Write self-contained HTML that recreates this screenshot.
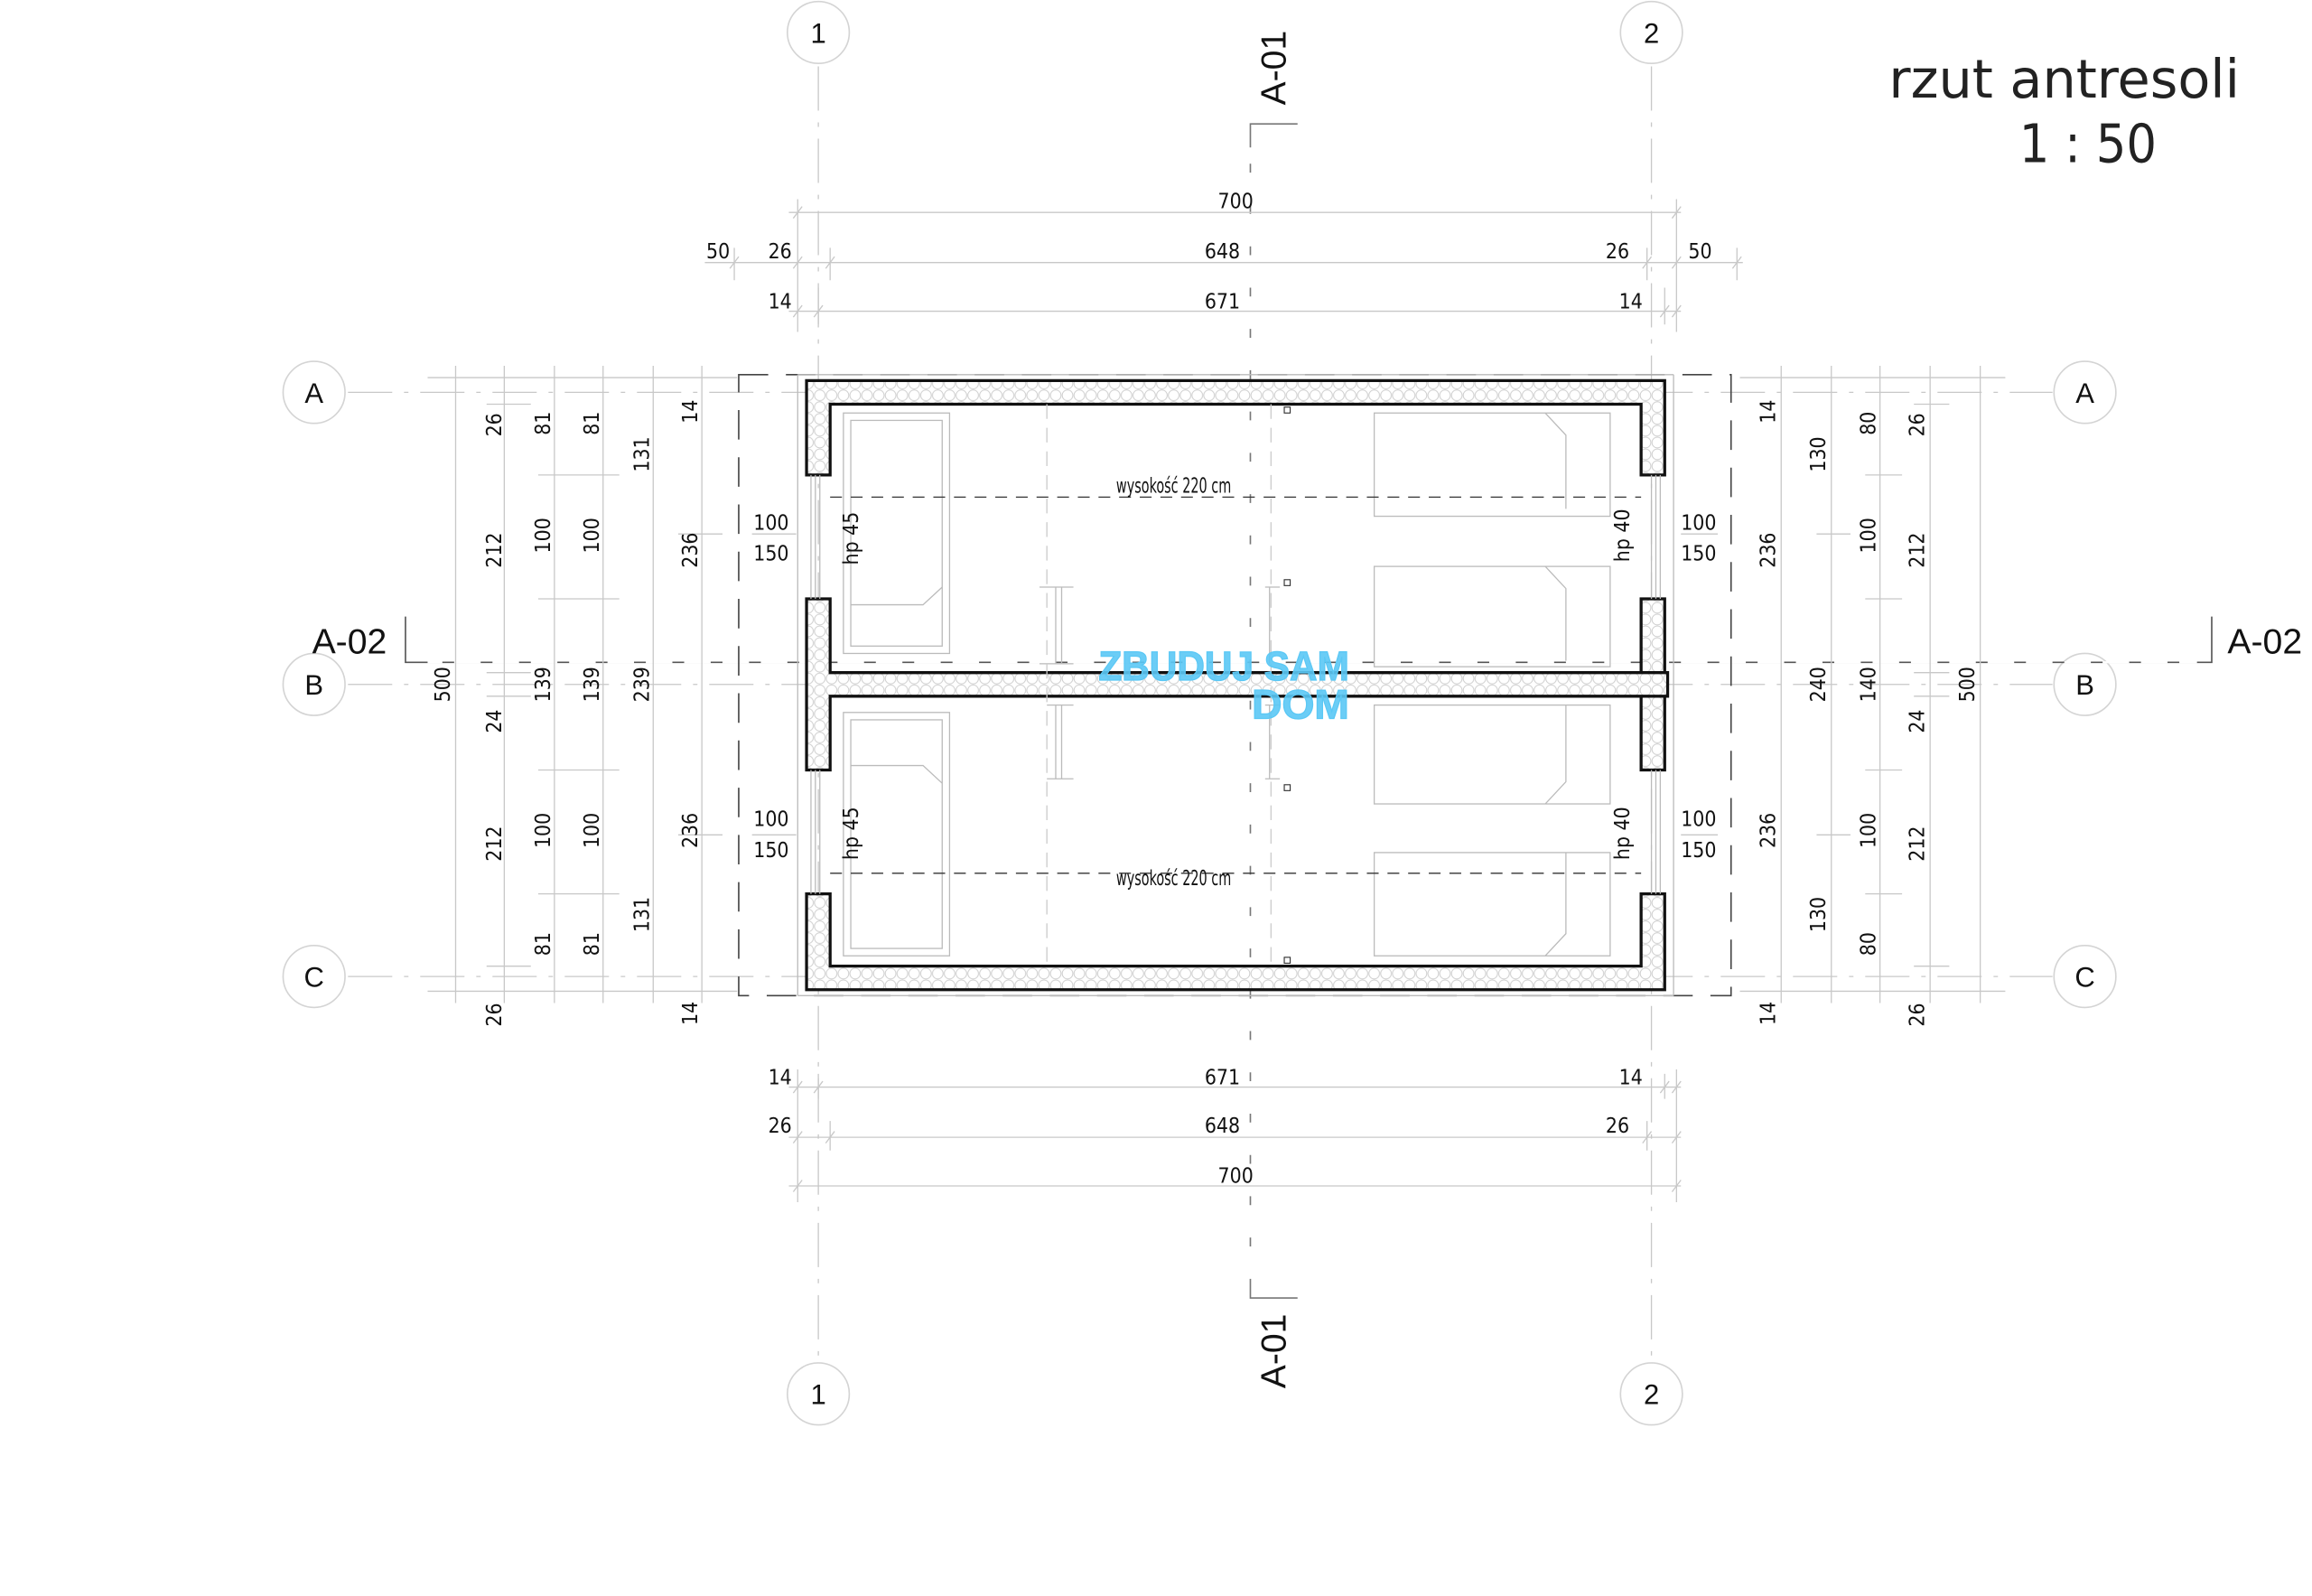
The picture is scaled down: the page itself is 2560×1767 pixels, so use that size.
<!DOCTYPE html>
<html><head><meta charset="utf-8"><style>
html,body{margin:0;padding:0;background:#fff}
svg{display:block}
.d{font-family:"DejaVu Sans Condensed","Liberation Sans",sans-serif;font-size:14px;fill:#111}
.g{stroke:#c8c8c8;stroke-width:0.8;fill:none}
.k{stroke:#111;stroke-width:2;fill:none}
.f{stroke:#bbb;stroke-width:0.8;fill:none}
</style></head><body>
<svg width="2560" height="1767" viewBox="0 0 1568 1082" preserveAspectRatio="none" xmlns="http://www.w3.org/2000/svg">
<defs>
<pattern id="ins" width="8" height="8" patternUnits="userSpaceOnUse">
<rect width="8" height="8" fill="#fff"/><circle cx="4" cy="4" r="3.6" fill="none" stroke="#ccc" stroke-width="0.6"/>
</pattern>
</defs>
<rect width="1568" height="1082" fill="#fff"/>

<g class="g" stroke-dasharray="30 8 3 8">
<line x1="555" y1="45" x2="555" y2="922"/><line x1="1120" y1="45" x2="1120" y2="922"/>
<line x1="236" y1="266" x2="1392" y2="266"/><line x1="236" y1="464" x2="1392" y2="464"/><line x1="236" y1="662" x2="1392" y2="662"/>
</g>
<g fill="#fff" stroke="#d4d4d4" stroke-width="1">
<ellipse cx="555" cy="22" rx="21" ry="21"/><ellipse cx="1120" cy="22" rx="21" ry="21"/>
<ellipse cx="555" cy="945" rx="21" ry="21"/><ellipse cx="1120" cy="945" rx="21" ry="21"/>
<ellipse cx="213" cy="266" rx="21" ry="21"/><ellipse cx="213" cy="464" rx="21" ry="21"/><ellipse cx="213" cy="662" rx="21" ry="21"/>
<ellipse cx="1414" cy="266" rx="21" ry="21"/><ellipse cx="1414" cy="464" rx="21" ry="21"/><ellipse cx="1414" cy="662" rx="21" ry="21"/>
</g>
<g font-family="Liberation Sans,sans-serif" font-size="19" text-anchor="middle" fill="#111">
<text x="555" y="29">1</text><text x="1120" y="29">2</text><text x="555" y="952">1</text><text x="1120" y="952">2</text>
<text x="213" y="273">A</text><text x="213" y="471">B</text><text x="213" y="669">C</text>
<text x="1414" y="273">A</text><text x="1414" y="471">B</text><text x="1414" y="669">C</text>
</g>

<text x="1400" y="66" font-family="DejaVu Sans Condensed,Liberation Sans,sans-serif" font-size="36" text-anchor="middle" fill="#222" textLength="238" lengthAdjust="spacingAndGlyphs">rzut antresoli</text>
<text x="1416" y="110" font-family="DejaVu Sans Condensed,Liberation Sans,sans-serif" font-size="36" text-anchor="middle" fill="#222">1 : 50</text>

<g stroke="#444" stroke-width="1" fill="none">
<path d="M880 84 H848 V880 H880" stroke="#777"/>
</g>
<line x1="848" y1="100" x2="848" y2="870" stroke="#fff" stroke-width="1.4" stroke-dasharray="22 6" stroke-dashoffset="11"/>
<path d="M275 418 V449 H1500 V418" stroke="#555" stroke-width="1" fill="none"/>
<line x1="290" y1="449" x2="1490" y2="449" stroke="#fff" stroke-width="1.4" stroke-dasharray="18 8" stroke-dashoffset="8"/>
<text transform="translate(872,46) rotate(-90)" font-family="Liberation Sans,sans-serif" font-size="24" text-anchor="middle" fill="#111">A-01</text>
<text transform="translate(872,916) rotate(-90)" font-family="Liberation Sans,sans-serif" font-size="24" text-anchor="middle" fill="#111">A-01</text>
<text x="237" y="443" font-family="Liberation Sans,sans-serif" font-size="24" text-anchor="middle" fill="#111">A-02</text>
<text x="1536" y="443" font-family="Liberation Sans,sans-serif" font-size="24" text-anchor="middle" fill="#111">A-02</text>

<rect x="501" y="254" width="673" height="421" fill="none" stroke="#444" stroke-width="1" stroke-dasharray="20 12"/>

<g fill="url(#ins)">
<path d="M547 322 V258 H1129 V322 H1113 V274 H563 V322 Z"/>
<path d="M547 406 H563 V456 H1131 V472 H563 V522 H547 Z"/>
<rect x="1113" y="406" width="16" height="50"/><rect x="1113" y="472" width="16" height="50"/>
<path d="M547 606 H563 V655 H1113 V606 H1129 V671 H547 Z"/>
</g>
<g class="k">
<path d="M547 322 V258 H1129 V322 H1113 V274 H563 V322 Z"/>
<path d="M547 406 H563 V456 H1131 V472 H563 V522 H547 Z"/>
<path d="M1113 456 V406 H1129 V456 M1113 472 V522 H1129 V472"/>
<path d="M547 606 H563 V655 H1113 V606 H1129 V671 H547 Z"/>
</g>
<g class="f">
<path d="M550 322 V406 M553 322 V406 M556 322 V406 M550 522 V606 M553 522 V606 M556 522 V606"/>
<path d="M1120 322 V406 M1123 322 V406 M1126 322 V406 M1120 522 V606 M1123 522 V606 M1126 522 V606"/>
<path d="M541 254 V675 M1135 254 V675 M541 254 H1135 M541 675 H1135"/>
</g>

<g class="f">
<rect x="572" y="280" width="72" height="163"/><rect x="577" y="285" width="62" height="153"/>
<path d="M577 410 H626 L639 398"/>
<rect x="932" y="280" width="160" height="70"/><path d="M1048 280 L1062 295 V345"/>
<rect x="932" y="384" width="160" height="68"/><path d="M1048 384 L1062 399 V448"/>
<rect x="572" y="483" width="72" height="165"/><rect x="577" y="488" width="62" height="155"/>
<path d="M577 519 H626 L639 531"/>
<rect x="932" y="478" width="160" height="67"/><path d="M1048 545 L1062 530 V478"/>
<rect x="932" y="578" width="160" height="70"/><path d="M1048 648 L1062 633 V578"/>
<path d="M705 398 H728 M716 398 V450 M720 398 V450 M705 450 H728 M710 478 H728 M716 478 V528 M720 478 V528 M710 528 H728"/>
<path d="M858 398 H868 M861 398 V450 M858 478 H868 M861 478 V528 M858 528 H868"/>
</g>
<g stroke="#ccc" stroke-width="0.8" stroke-dasharray="10 6">
<line x1="710" y1="274" x2="710" y2="655"/><line x1="862" y1="274" x2="862" y2="655"/>
</g>
<g stroke="#333" stroke-width="0.8" stroke-dasharray="8 6">
<line x1="563" y1="337" x2="1113" y2="337"/><line x1="563" y1="592" x2="1113" y2="592"/>
</g>
<g fill="#fff" stroke="#333" stroke-width="0.7">
<rect x="871" y="276" width="4" height="4"/><rect x="871" y="393" width="4" height="4"/><rect x="871" y="532" width="4" height="4"/><rect x="871" y="649" width="4" height="4"/>
</g>
<g class="d" font-size="9" text-anchor="middle">
<text x="796" y="334" textLength="78" lengthAdjust="spacingAndGlyphs">wysokość 220 cm</text><text x="796" y="600" textLength="78" lengthAdjust="spacingAndGlyphs">wysokość 220 cm</text>
</g>

<g class="g">
<line x1="535" y1="144" x2="1140" y2="144"/><line x1="478" y1="178" x2="1182" y2="178"/><line x1="535" y1="211" x2="1140" y2="211"/>
<line x1="535" y1="737" x2="1140" y2="737"/><line x1="535" y1="771" x2="1140" y2="771"/><line x1="535" y1="804" x2="1140" y2="804"/>
<path d="M541 135 V225 M563 168 V190 M1117 168 V190 M1137 135 V225 M498 168 V190 M1178 168 V190 M555 195 V220 M1129 195 V220"/>
<path d="M541 725 V815 M563 760 V780 M1117 760 V780 M1137 725 V815 M555 728 V745 M1129 728 V745"/>
<path d="M538 148 l6 -8 M1134 148 l6 -8 M538 182 l6 -8 M560 182 l6 -8 M1114 182 l6 -8 M1134 182 l6 -8 M495 182 l6 -8 M1175 182 l6 -8 M538 215 l6 -8 M552 215 l6 -8 M1126 215 l6 -8 M1134 215 l6 -8"/>
<path d="M538 741 l6 -8 M552 741 l6 -8 M1126 741 l6 -8 M1134 741 l6 -8 M538 775 l6 -8 M560 775 l6 -8 M1114 775 l6 -8 M1134 775 l6 -8 M538 808 l6 -8 M1134 808 l6 -8"/>
</g>
<g class="d" text-anchor="middle">
<text x="838" y="141">700</text>
<text x="487" y="175">50</text><text x="529" y="175">26</text><text x="829" y="175">648</text><text x="1097" y="175">26</text><text x="1153" y="175">50</text>
<text x="529" y="209">14</text><text x="829" y="209">671</text><text x="1106" y="209">14</text>
<text x="529" y="735">14</text><text x="829" y="735">671</text><text x="1106" y="735">14</text>
<text x="529" y="768">26</text><text x="829" y="768">648</text><text x="1097" y="768">26</text>
<text x="838" y="802">700</text>
</g>

<g class="g">
<path d="M309 248 V680 M342 248 V680 M376 248 V680 M409 248 V680 M443 248 V680 M476 248 V680"/>
<path d="M1208 248 V680 M1242 248 V680 M1275 248 V680 M1309 248 V680 M1343 248 V680"/>
<path d="M290 256 H500 M290 672 H500 M1180 256 H1360 M1180 672 H1360 M330 274 H360 M330 456 H360 M330 472 H360 M330 655 H360 M365 322 H420 M365 406 H420 M365 522 H420 M365 606 H420 M460 362 H490 M460 566 H490"/>
<path d="M1232 362 H1255 M1232 566 H1255 M1265 322 H1290 M1265 406 H1290 M1265 522 H1290 M1265 606 H1290 M1298 274 H1322 M1298 456 H1322 M1298 472 H1322 M1298 655 H1322"/>
</g>
<g class="d" text-anchor="middle">
<text transform="translate(340,288) rotate(-90)">26</text>
<text transform="translate(373,287) rotate(-90)">81</text>
<text transform="translate(406,287) rotate(-90)">81</text>
<text transform="translate(440,308) rotate(-90)">131</text>
<text transform="translate(473,279) rotate(-90)">14</text>
<text transform="translate(340,373) rotate(-90)">212</text>
<text transform="translate(373,363) rotate(-90)">100</text>
<text transform="translate(406,363) rotate(-90)">100</text>
<text transform="translate(473,373) rotate(-90)">236</text>
<text transform="translate(305,464) rotate(-90)">500</text>
<text transform="translate(340,489) rotate(-90)">24</text>
<text transform="translate(373,464) rotate(-90)">139</text>
<text transform="translate(406,464) rotate(-90)">139</text>
<text transform="translate(440,464) rotate(-90)">239</text>
<text transform="translate(340,572) rotate(-90)">212</text>
<text transform="translate(373,563) rotate(-90)">100</text>
<text transform="translate(406,563) rotate(-90)">100</text>
<text transform="translate(473,563) rotate(-90)">236</text>
<text transform="translate(373,640) rotate(-90)">81</text>
<text transform="translate(406,640) rotate(-90)">81</text>
<text transform="translate(440,620) rotate(-90)">131</text>
<text transform="translate(340,688) rotate(-90)">26</text>
<text transform="translate(473,687) rotate(-90)">14</text>

<text transform="translate(1204,279) rotate(-90)">14</text>
<text transform="translate(1238,308) rotate(-90)">130</text>
<text transform="translate(1272,287) rotate(-90)">80</text>
<text transform="translate(1305,288) rotate(-90)">26</text>
<text transform="translate(1204,373) rotate(-90)">236</text>
<text transform="translate(1272,363) rotate(-90)">100</text>
<text transform="translate(1305,373) rotate(-90)">212</text>
<text transform="translate(1238,464) rotate(-90)">240</text>
<text transform="translate(1272,464) rotate(-90)">140</text>
<text transform="translate(1305,489) rotate(-90)">24</text>
<text transform="translate(1339,464) rotate(-90)">500</text>
<text transform="translate(1204,563) rotate(-90)">236</text>
<text transform="translate(1272,563) rotate(-90)">100</text>
<text transform="translate(1305,572) rotate(-90)">212</text>
<text transform="translate(1238,620) rotate(-90)">130</text>
<text transform="translate(1272,640) rotate(-90)">80</text>
<text transform="translate(1204,687) rotate(-90)">14</text>
<text transform="translate(1305,688) rotate(-90)">26</text>
<text x="523" y="359">100</text><text x="523" y="380">150</text>
<text x="523" y="560">100</text><text x="523" y="581">150</text>
<text x="1152" y="359">100</text><text x="1152" y="380">150</text>
<text x="1152" y="560">100</text><text x="1152" y="581">150</text>
<text transform="translate(582,365) rotate(-90)">hp 45</text>
<text transform="translate(582,565) rotate(-90)">hp 45</text>
<text transform="translate(1105,363) rotate(-90)">hp 40</text>
<text transform="translate(1105,565) rotate(-90)">hp 40</text>
</g>
<g class="g"><path d="M510 362 H540 M510 566 H540 M1140 362 H1165 M1140 566 H1165"/></g>

<g font-family="Liberation Sans,sans-serif" font-weight="bold" font-size="28" fill="#5bc8f5" stroke="#5bc8f5" stroke-width="0.8" fill-opacity="0.9" text-anchor="end">
<text x="915" y="461" textLength="170" lengthAdjust="spacingAndGlyphs">ZBUDUJ SAM</text>
<text x="915" y="487" textLength="66" lengthAdjust="spacingAndGlyphs">DOM</text>
</g>
</svg>
</body></html>
